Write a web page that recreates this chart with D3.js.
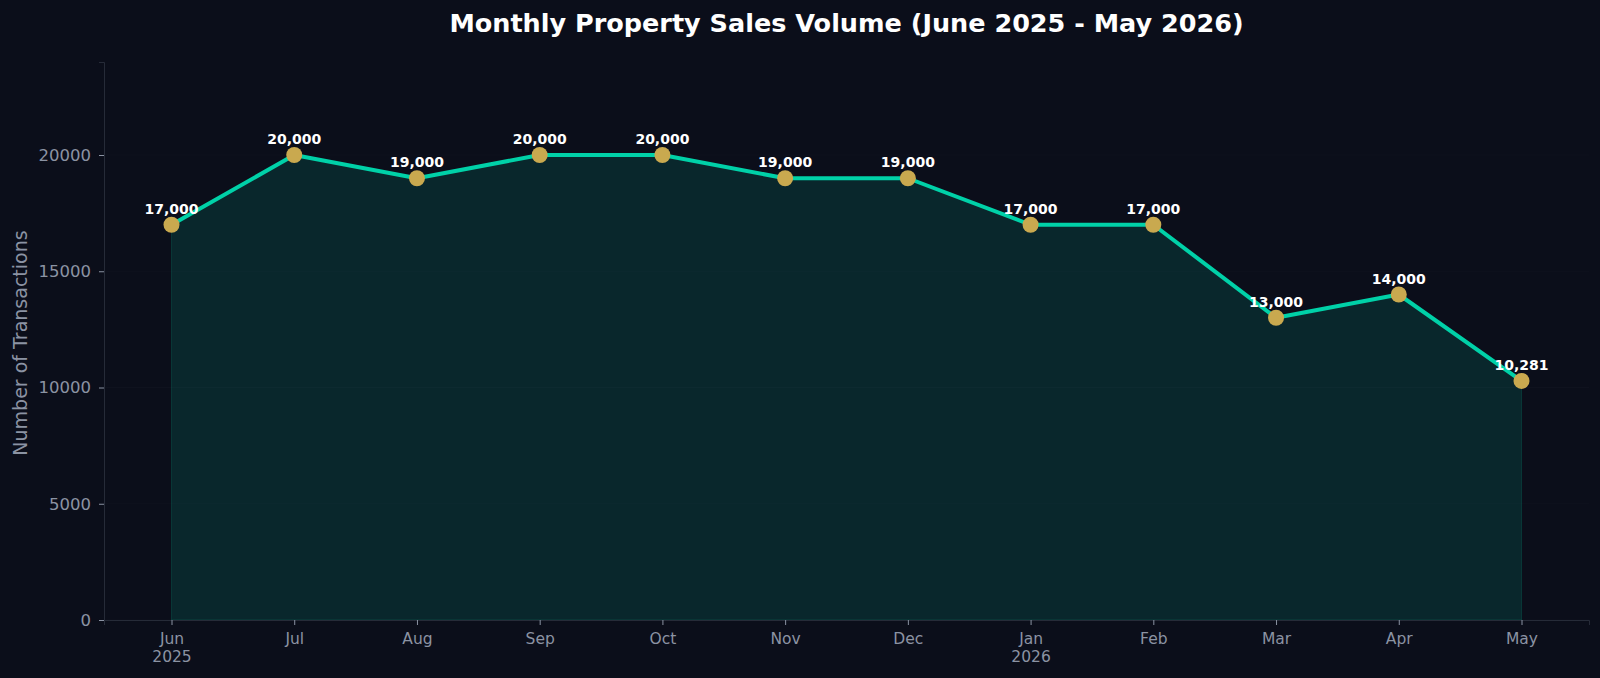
<!DOCTYPE html>
<html>
<head>
<meta charset="utf-8">
<script src="https://cdn.jsdelivr.net/npm/d3@7"></script>
<style>
  html, body { margin: 0; padding: 0; background: #0b0e1a; }
  svg { display: block; }
  svg text { font-family: "DejaVu Sans", sans-serif; }
</style>
</head>
<body>
<script>
const months = ['Jun', 'Jul', 'Aug', 'Sep', 'Oct', 'Nov', 'Dec', 'Jan', 'Feb', 'Mar', 'Apr', 'May'];
const years = ['2025', '', '', '', '', '', '', '2026', '', '', '', ''];
const sales = [17000, 20000, 19000, 20000, 20000, 19000, 19000, 17000, 17000, 13000, 14000, 10281];
const yTicks = [0, 5000, 10000, 15000, 20000];

const width = 1600;
const height = 678;
const margin = { top: 62, right: 11, bottom: 58, left: 104 };

const svg = d3.select('body')
  .append('svg')
  .attr('width', width)
  .attr('height', height);

svg.append('rect')
  .attr('width', width)
  .attr('height', height)
  .attr('fill', '#0b0e1a');

// scales
const x = d3.scaleLinear()
  .domain([-0.55, months.length - 1 + 0.55])
  .range([margin.left, width - margin.right]);
const y = d3.scaleLinear()
  .domain([0, 24000])
  .range([height - margin.bottom, margin.top]);

// faint grid
svg.append('g')
  .selectAll('line')
  .data(yTicks)
  .enter().append('line')
  .attr('x1', margin.left)
  .attr('x2', width - margin.right)
  .attr('y1', d => y(d))
  .attr('y2', d => y(d))
  .attr('stroke', '#ffffff')
  .attr('stroke-opacity', 0.02);

// area under line
const area = d3.area()
  .x((d, i) => x(i))
  .y0(y(0))
  .y1(d => y(d));
svg.append('path')
  .datum(sales)
  .attr('d', area)
  .attr('fill', '#00d4aa')
  .attr('fill-opacity', 0.13)
  .attr('stroke', '#00d4aa')
  .attr('stroke-opacity', 0.15);

// y axis
const yAxis = svg.append('g')
  .attr('transform', `translate(${margin.left},0)`)
  .call(d3.axisLeft(y).tickValues(yTicks).tickFormat(d3.format('d')).tickSize(5).tickPadding(8));
yAxis.attr('font-family', '"DejaVu Sans", sans-serif');
yAxis.select('.domain').attr('stroke', '#262b38');
yAxis.selectAll('.tick line').attr('stroke', '#8b93a3');
yAxis.selectAll('.tick text')
  .attr('fill', '#8b93a3')
  .style('font-size', '16.5px');

// x axis
const xAxis = svg.append('g')
  .attr('transform', `translate(0,${y(0)})`)
  .call(d3.axisBottom(x).tickValues(d3.range(months.length)).tickFormat(i => months[i]).tickSize(5).tickPadding(8));
xAxis.attr('font-family', '"DejaVu Sans", sans-serif');
xAxis.select('.domain').attr('stroke', '#262b38');
xAxis.selectAll('.tick line').attr('stroke', '#8b93a3');
xAxis.selectAll('.tick text')
  .attr('fill', '#8b93a3')
  .style('font-size', '15.5px');
xAxis.selectAll('.tick')
  .append('text')
  .attr('y', 31)
  .attr('dy', '0.71em')
  .attr('text-anchor', 'middle')
  .attr('fill', '#8b93a3')
  .style('font-size', '15.5px')
  .text(i => years[i]);

// line
const line = d3.line()
  .x((d, i) => x(i))
  .y(d => y(d));
svg.append('path')
  .datum(sales)
  .attr('d', line)
  .attr('fill', 'none')
  .attr('stroke', '#00d1a8')
  .attr('stroke-width', 4)
  .attr('stroke-linejoin', 'round');

// markers
svg.append('g')
  .selectAll('circle')
  .data(sales)
  .enter().append('circle')
  .attr('cx', (d, i) => x(i))
  .attr('cy', d => y(d))
  .attr('r', 8)
  .attr('fill', '#c9a94f');

// value labels
svg.append('g')
  .selectAll('text')
  .data(sales)
  .enter().append('text')
  .attr('x', (d, i) => x(i))
  .attr('y', d => y(d) - 11)
  .attr('text-anchor', 'middle')
  .attr('fill', '#ffffff')
  .style('font-size', '14px')
  .style('font-weight', 'bold')
  .text(d => d3.format(',')(d));

// y label
svg.append('text')
  .attr('transform', `translate(20,${(margin.top + y(0)) / 2 + 2}) rotate(-90)`)
  .attr('text-anchor', 'middle')
  .attr('dy', '0.35em')
  .attr('fill', '#8b93a3')
  .style('font-size', '19px')
  .text('Number of Transactions');

// title
svg.append('text')
  .attr('x', (margin.left + width - margin.right) / 2)
  .attr('y', 32)
  .attr('text-anchor', 'middle')
  .attr('fill', '#ffffff')
  .style('font-size', '25.5px')
  .style('font-weight', 'bold')
  .text('Monthly Property Sales Volume (June 2025 - May 2026)');
</script>
</body>
</html>
